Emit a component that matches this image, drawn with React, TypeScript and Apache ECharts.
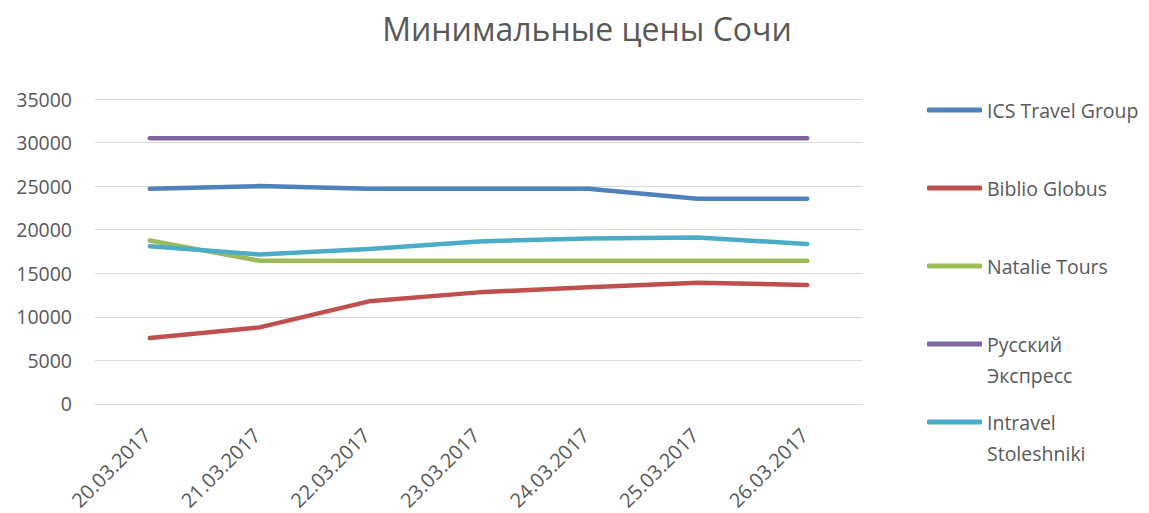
import React, { useEffect, useRef } from "react";
import * as echarts from "echarts";

const categories = ["20.03.2017", "21.03.2017", "22.03.2017", "23.03.2017", "24.03.2017", "25.03.2017", "26.03.2017"];
const seriesNames = ["ICS Travel Group", "Biblio Globus", "Natalie Tours", "Русский Экспресс", "Intravel Stoleshniki"];
const legendLabels = ["ICS Travel Group", "Biblio Globus", "Natalie Tours", "\nРусский\nЭкспресс", "\nIntravel\nStoleshniki"];
const icsTravel = [24700, 25000, 24700, 24700, 24700, 23550, 23550];
const biblioGlobus = [7570, 8780, 11770, 12800, 13400, 13900, 13650];
const natalieTours = [18760, 16430, 16430, 16430, 16430, 16430, 16430];
const russkiyExpress = [30500, 30500, 30500, 30500, 30500, 30500, 30500];
const intravel = [18100, 17160, 17770, 18650, 18990, 19100, 18350];
const yTicks = [0, 5000, 10000, 15000, 20000, 25000, 30000, 35000];

const colors = ["#4F81BD", "#C0504D", "#9BBB59", "#8064A2", "#4BACC6"];
const values = [icsTravel, biblioGlobus, natalieTours, russkiyExpress, intravel];
const legendTops = [94.5, 172.5, 250.5, 297.5, 375.5];

export default function App() {
  const ref = useRef<HTMLDivElement>(null);
  useEffect(() => {
    if (!ref.current) return;
    const chart = echarts.init(ref.current, null, { renderer: "svg" });
    const font = "'Open Sans', sans-serif";
    chart.setOption({
      animation: false,
      backgroundColor: "#ffffff",
      textStyle: { fontFamily: font },
      title: {
        text: "Минимальные цены Сочи",
        left: 582,
        top: 7,
        textAlign: "center",
        textStyle: { fontFamily: font, fontSize: 32, fontWeight: "normal", color: "#595959" },
      },
      legend: seriesNames.map((name, i) => ({
        data: [name],
        orient: "vertical",
        left: 927,
        top: legendTops[i],
        padding: 0,
        icon: "roundRect",
        itemWidth: 55,
        itemHeight: 5,
        itemGap: 0,
        formatter: () => legendLabels[i],
        textStyle: {
          fontFamily: font,
          fontSize: 19.5,
          color: "#595959",
          lineHeight: 31,
        },
      })),
      grid: { left: 95, right: 287, top: 99, bottom: 109, containLabel: false },
      xAxis: {
        type: "category",
        data: categories,
        boundaryGap: true,
        axisLine: { lineStyle: { color: "#d9d9d9", width: 1 } },
        axisTick: { show: false },
        axisLabel: { rotate: 45, fontFamily: font, fontSize: 20, color: "#595959", margin: 25, padding: [0, 4, 0, 0] },
      },
      yAxis: {
        type: "value",
        min: yTicks[0],
        max: yTicks[yTicks.length - 1],
        interval: 5000,
        axisLine: { show: false },
        axisTick: { show: false },
        splitLine: { lineStyle: { color: "#d9d9d9", width: 1 } },
        axisLabel: { fontFamily: font, fontSize: 19.5, color: "#595959", margin: 23, formatter: (v: number) => String(v) },
      },
      series: seriesNames.map((name, i) => ({
        name,
        type: "line",
        data: values[i],
        symbol: "none",
        color: colors[i],
        lineStyle: { color: colors[i], width: 4.5, cap: "round", join: "round" },
      })),
    });
    return () => chart.dispose();
  }, []);
  return <div ref={ref} style={{ position: "fixed", left: 0, top: 0, width: 1149, height: 513 }} />;
}
